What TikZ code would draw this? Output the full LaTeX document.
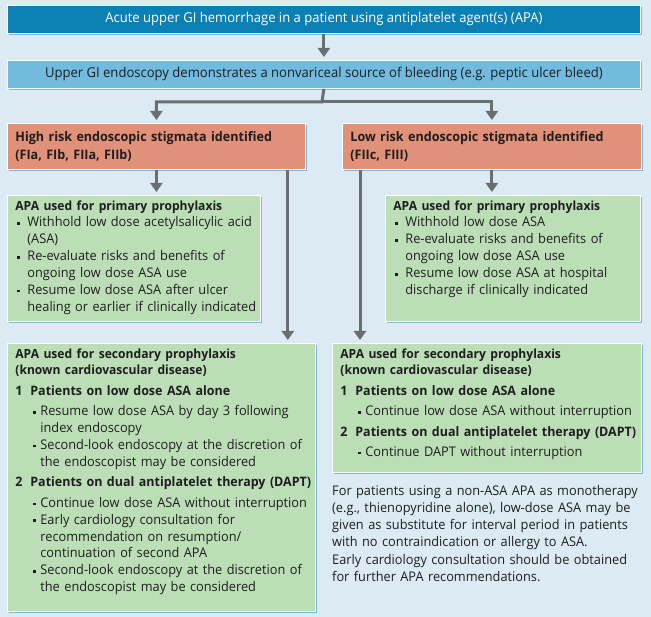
\documentclass[tikz,border=0pt]{standalone}
\usepackage{fontspec}
\setmainfont[FakeStretch=0.96]{Open Sans}
\usetikzlibrary{positioning}
\usetikzlibrary{calc}
\usetikzlibrary{shadows}
\usetikzlibrary{arrows.meta}
\definecolor{bgblue}{HTML}{DCEAF3}
\definecolor{darkblue}{HTML}{0B80B4}
\definecolor{lightblue}{HTML}{72BBDF}
\definecolor{salmon}{HTML}{E1907A}
\definecolor{palegreen}{HTML}{BBDEB6}
\definecolor{boxshadow}{HTML}{7FB6DB}
\definecolor{arrgray}{HTML}{6A6D71}
\definecolor{inkgray}{HTML}{1E1E1E}
\tikzset{box/.style={draw=white,line width=0.8pt,anchor=north west,inner xsep=8pt,inner ysep=5pt,
  align=left,text=inkgray,drop shadow={shadow xshift=2pt,shadow yshift=-2pt,fill=boxshadow,opacity=1}}}
\tikzset{arr/.style={draw=arrgray,line width=3pt,shorten >=3pt,-{Triangle[width=12pt,length=9pt]}}}
\newcommand{\bl}{\textcolor{inkgray}{\rule[0.3ex]{2.6pt}{2.6pt}}}
\newcommand{\hd}[1]{{\fontsize{12.6}{16.9}\selectfont\bfseries #1}}
\newcommand{\nhd}[1]{{\fontsize{13}{16.9}\selectfont\bfseries #1}}
\newcommand{\pitem}[1]{\par\hangindent=12pt\hangafter=1\noindent\hbox to 12pt{\hspace{2pt}\bl\hfil}#1}
\newcommand{\sitem}[1]{\par\hangindent=25pt\hangafter=1\noindent\hbox to 25pt{\hspace{18pt}\bl\hfil}#1}
\newcommand{\nitem}[2]{\par\vspace{3.5pt}\noindent\hbox to 15pt{\nhd{#1}\hfil}\mbox{\nhd{#2}}\par\vspace{3.5pt}}
\hyphenpenalty=10000
\begin{document}
\begin{tikzpicture}[x=1pt,y=-1pt,font=\fontsize{13.3}{16.9}\selectfont]
  \fill[bgblue] (0,0) rectangle (651,617);
  \useasboundingbox (0,0) rectangle (651,617);

  % top row
  \node[box,fill=darkblue,text=white,minimum width=633pt,minimum height=28pt,align=center] (acute) at (7,5)
    {\fontsize{13.6}{16}\selectfont Acute upper GI hemorrhage in a patient using antiplatelet agent(s) (APA)};
  \node[box,fill=lightblue,minimum width=633pt,minimum height=28pt,align=center] (endo) at (7,60)
    {\fontsize{13.6}{16}\selectfont Upper GI endoscopy demonstrates a nonvariceal source of bleeding (e.g. peptic ulcer bleed)};

  % stigmata
  \node[box,fill=salmon,text width=282pt,minimum height=46pt,font=\fontsize{13.1}{17.8}\selectfont\bfseries] (high) at (7,123)
    {High risk endoscopic stigmata identified\newline (FIa, FIb, FIIa, FIIb)};
  \node[box,fill=salmon,text width=283pt,minimum height=46pt,font=\fontsize{13.1}{17.8}\selectfont\bfseries] (low) at (342,123)
    {Low risk endoscopic stigmata identified\newline (FIIc, FIII)};

  % primary prophylaxis
  \node[box,fill=palegreen,text width=237pt] (primhigh) at (7,195)
    {\vbox to 116pt{\hd{APA used for primary prophylaxis}
     \pitem{Withhold low dose acetylsalicylic acid\newline (ASA)}
     \pitem{Re-evaluate risks and benefits of\newline ongoing low dose ASA use}
     \pitem{Resume low dose ASA after ulcer\newline \mbox{healing or earlier if clinically indicated}}\par\vfil}};
  \node[box,fill=palegreen,text width=239pt] (primlow) at (385,195)
    {\vbox to 116pt{\hd{APA used for primary prophylaxis}
     \pitem{Withhold low dose ASA}
     \pitem{Re-evaluate risks and benefits of\newline ongoing low dose ASA use}
     \pitem{Resume low dose ASA at hospital\newline discharge if clinically indicated}\par\vfil}};

  % secondary prophylaxis
  \node[box,fill=palegreen,text width=292pt] (sechigh) at (7,343)
    {\vbox to 258pt{\hd{APA used for secondary prophylaxis\newline (known cardiovascular disease)}
     \nitem{1}{Patients on low dose ASA alone}
     \sitem{Resume low dose ASA by day 3 following\newline index endoscopy}
     \sitem{\mbox{Second-look endoscopy at the discretion of}\newline the endoscopist may be considered}
     \nitem{2}{Patients on dual antiplatelet therapy (DAPT)}
     \sitem{\mbox{Continue low dose ASA without interruption}}
     \sitem{Early cardiology consultation for\newline recommendation on resumption/\newline continuation of second APA}
     \sitem{\mbox{Second-look endoscopy at the discretion of}\newline the endoscopist may be considered}\par\vfil}};
  \node[box,fill=palegreen,text width=293pt] (seclow) at (332,343)
    {\vbox to 119pt{\hd{APA used for secondary prophylaxis\newline (known cardiovascular disease)}
     \nitem{1}{Patients on low dose ASA alone}
     \sitem{\mbox{Continue low dose ASA without interruption}}
     \nitem{2}{Patients on dual antiplatelet therapy (DAPT)}
     \sitem{Continue DAPT without interruption}\par\vfil}};

  \node[anchor=north west,inner sep=0pt,text width=314pt,align=left,text=inkgray] (note) at (332,485)
    {For patients using a non-ASA APA as monotherapy\newline (e.g., thienopyridine alone), low-dose ASA may be\newline
     given as substitute for interval period in patients\newline with no contraindication or allergy to ASA.\par\vspace{2pt}
     Early cardiology consultation should be obtained\newline for further APA recommendations.};

  % connectors
  \coordinate (split) at (322,102);
  \coordinate (hdrop) at ($(high.south east)+(-18,0)$);
  \coordinate (ldrop) at ($(low.south west)+(18,0)$);
  \draw[arr] (acute.south) -- (endo.north);
  \draw[arr] (endo.south) -- (split) -| (high.north);
  \draw[arr] (split) -| (low.north);
  \draw[arr] (high.south) -- (high.south |- primhigh.north);
  \draw[arr] (low.south) -- (low.south |- primlow.north);
  \draw[arr] (hdrop) -- (hdrop |- sechigh.north);
  \draw[arr] (ldrop) -- (ldrop |- seclow.north);
\end{tikzpicture}
\end{document}
